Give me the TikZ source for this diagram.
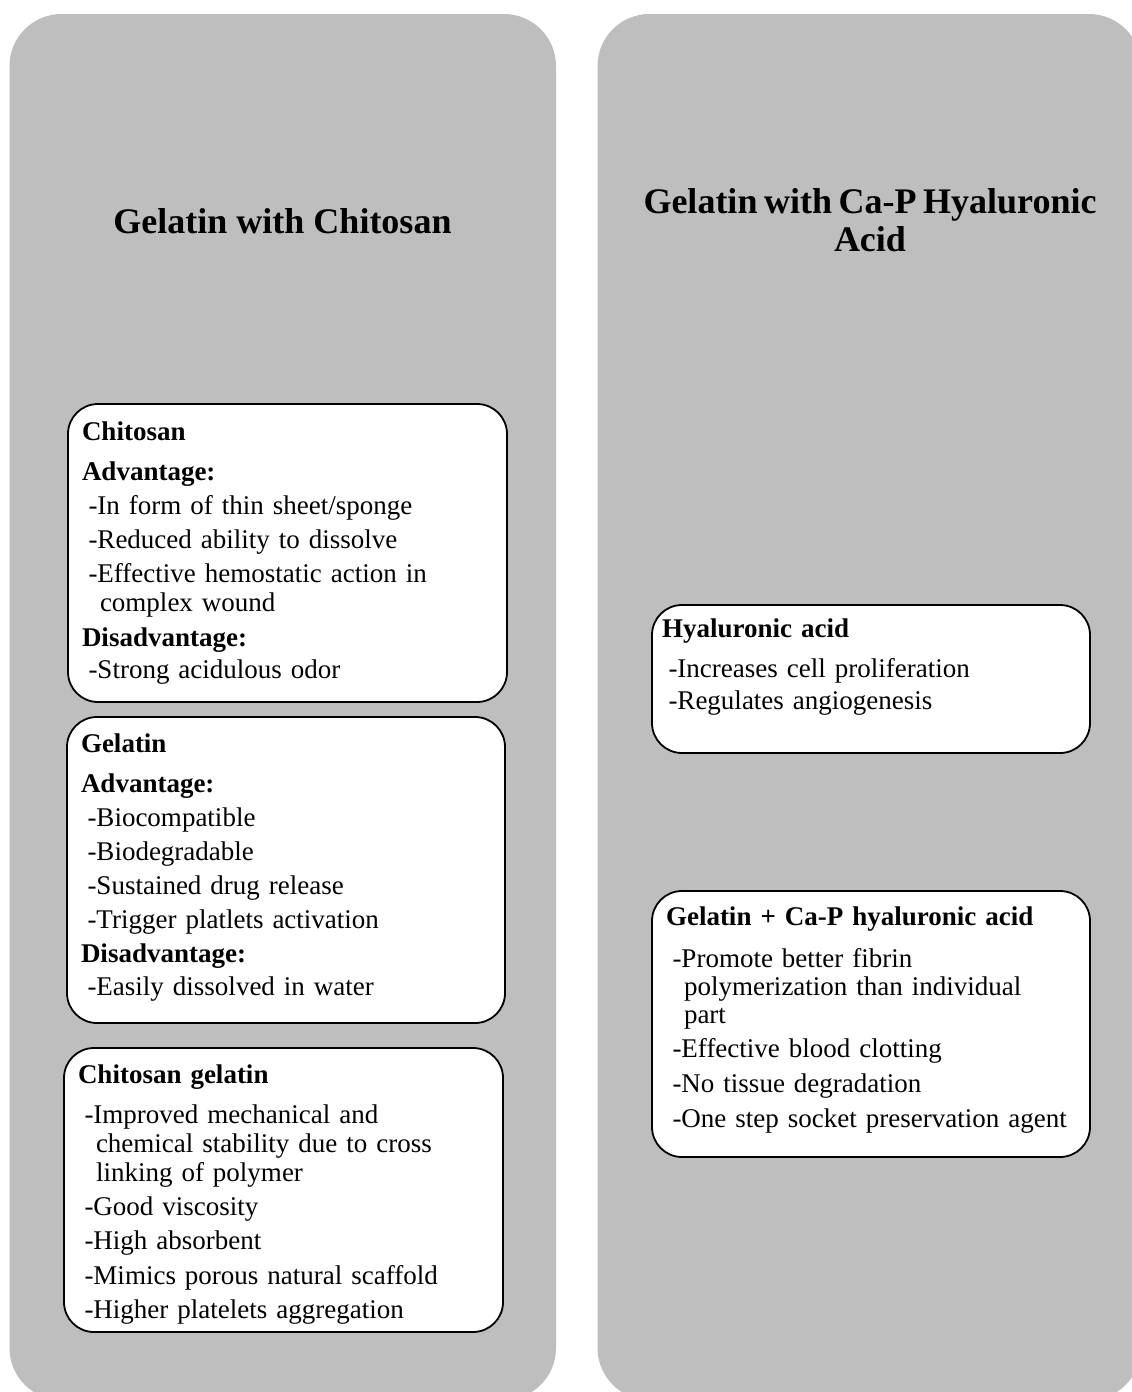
\documentclass[tikz,border=0pt]{standalone}
\usepackage{fontspec}
\setmainfont{Liberation Serif}
\definecolor{panelgray}{RGB}{190,190,190}
\newcommand\bodyfont{\fontsize{27}{34}\selectfont\spaceskip=0.34em plus 0.1em minus 0.05em\relax}
\newcommand\titlefont{\fontsize{36}{38}\selectfont\bfseries}
\newcommand\Ii{\hspace*{6.5pt}}
\newcommand\Cc{\hspace*{18pt}}
\tikzset{
  panel/.style={fill=panelgray, draw=none, rounded corners=52pt, inner sep=0pt, outer sep=0pt},
  ibox/.style={fill=white, draw=black, line width=1.8pt, rounded corners=30pt, inner sep=0pt},
  btext/.style={font=\bodyfont, text width=424pt, align=left, anchor=base west, inner sep=0pt, outer sep=0pt},
  ttext/.style={font=\titlefont, inner sep=0pt, outer sep=0pt}
}
\begin{document}
\begin{tikzpicture}[x=1pt,y=-1pt]
\useasboundingbox (0,0) rectangle (1132,1392);
\clip (0,0) rectangle (1132,1392);
% panels
\node[panel, minimum width=546.5pt, minimum height=1386pt] (lp) at (282.75,707) {};
\node[panel, minimum width=543.5pt, minimum height=1386pt] (rp) at (869.25,707) {};
% titles
\node[ttext, anchor=base] (t1) at (282.5,233) {Gelatin with Chitosan};
\node[ttext, text width=540pt, align=center, anchor=base] (t2) at (870,213) {\spaceskip=0.17em plus 0.02em minus 0.02em\relax Gelatin with Ca-P Hyaluronic\\ Acid};
% boxes
\node[ibox, minimum width=439pt, minimum height=298pt] (b1) at (287.5,553) {};
\node[ibox, minimum width=438pt, minimum height=306pt] (b2) at (286,870) {};
\node[ibox, minimum width=439pt, minimum height=284pt] (b3) at (283.5,1190) {};
\node[ibox, minimum width=438pt, minimum height=148pt] (b4) at (871,679) {};
\node[ibox, minimum width=438pt, minimum height=266pt] (b5) at (871,1024) {};
% texts
\node[btext] (x1) at (82,440) {\textbf{Chitosan}\\[6pt]
\textbf{Advantage:}\\
\Ii-In form of thin sheet/sponge\\
\Ii-Reduced ability to dissolve\\
\Ii-Effective hemostatic action in\\[-5pt]
\Cc complex wound\\[1pt]
\textbf{Disadvantage:}\\[-2pt]
\Ii-Strong acidulous odor};
\node[btext] (x2) at (81,752) {\textbf{Gelatin}\\[6pt]
\textbf{Advantage:}\\
\Ii-Biocompatible\\
\Ii-Biodegradable\\
\Ii-Sustained drug release\\
\Ii-Trigger platlets activation\\
\textbf{Disadvantage:}\\[-1pt]
\Ii-Easily dissolved in water};
\node[btext] (x3) at (78,1083) {\textbf{Chitosan gelatin}\\[6pt]
\Ii-Improved mechanical and\\[-5pt]
\Cc chemical stability due to cross\\[-5pt]
\Cc linking of polymer\\
\Ii-Good viscosity\\
\Ii-High absorbent\\[1pt]
\Ii-Mimics porous natural scaffold\\
\Ii-Higher platelets aggregation};
\node[btext] (x4) at (662,637) {\textbf{Hyaluronic acid}\\[6pt]
\Ii-Increases cell proliferation\\[-2pt]
\Ii-Regulates angiogenesis};
\node[btext] (x5) at (666,925) {\textbf{Gelatin + Ca-P hyaluronic acid}\\[8pt]
\Ii-Promote better fibrin\\[-6pt]
\Cc polymerization than individual\\[-6pt]
\Cc part\\
\Ii-Effective blood clotting\\[1pt]
\Ii-No tissue degradation\\[1pt]
\Ii-One step socket preservation agent};
\end{tikzpicture}
\end{document}
